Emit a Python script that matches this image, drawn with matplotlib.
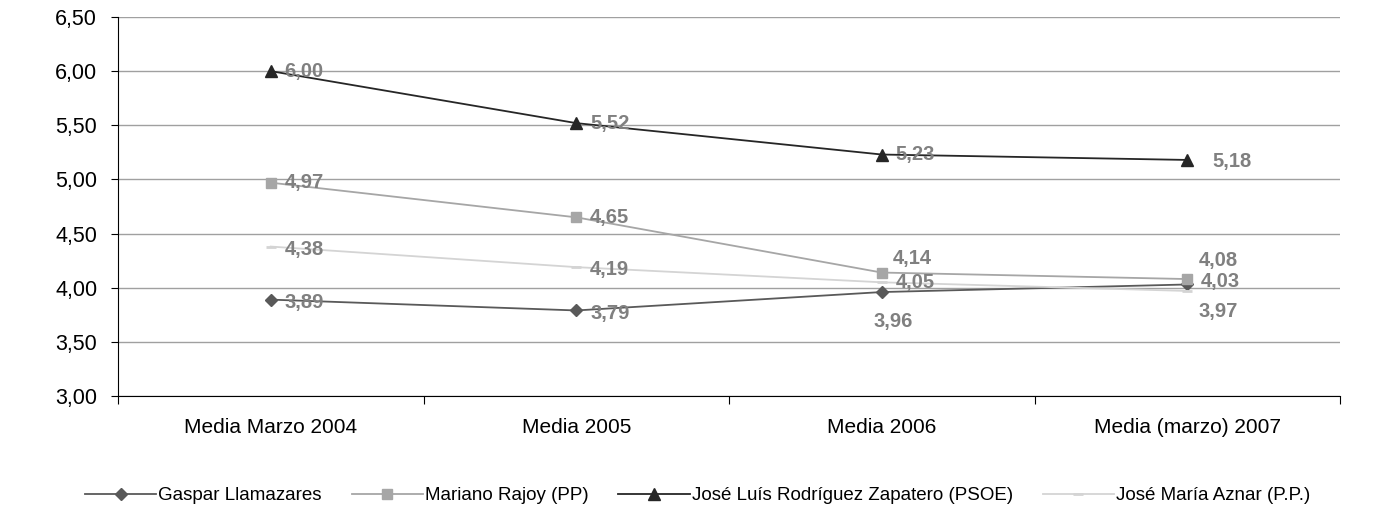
import matplotlib.pyplot as plt

plt.rcParams['font.family'] = ['Liberation Sans', 'DejaVu Sans']

categories = ["Media Marzo 2004", "Media 2005", "Media 2006", "Media (marzo) 2007"]
gaspar = [3.89, 3.79, 3.96, 4.03]
rajoy = [4.97, 4.65, 4.14, 4.08]
zapatero = [6.00, 5.52, 5.23, 5.18]
aznar = [4.38, 4.19, 4.05, 3.97]

series = [
    ("Gaspar Llamazares", gaspar, "#595959", "D", 6),
    ("Mariano Rajoy (PP)", rajoy, "#a6a6a6", "s", 7),
    ("José Luís Rodríguez Zapatero (PSOE)", zapatero, "#262626", "^", 8),
    ("José María Aznar (P.P.)", aznar, "#d4d4d4", "_", 7),
]
# label offsets in points per series / point
offsets = {
    "Gaspar Llamazares": [(10, -2), (10, -2), (-6, -21), (10, 2)],
    "Mariano Rajoy (PP)": [(10, 0), (10, 0), (8, 10), (8, 13)],
    "José Luís Rodríguez Zapatero (PSOE)": [(10, 0), (10, 0), (10, 0), (18, -1)],
    "José María Aznar (P.P.)": [(10, -2), (10, -2), (10, 0), (8, -15)],
}

fig = plt.figure(figsize=(13.95, 5.16), dpi=100)
ax = fig.add_axes([118 / 1395, 1 - 396 / 516, 1222 / 1395, 379 / 516])
x = [i + 0.5 for i in range(len(categories))]
for name, vals, col, mk, ms in series:
    ax.plot(x, vals, color=col, marker=mk, markersize=ms, lw=1.3, label=name,
            markeredgewidth=2 if mk == "_" else 1)
    for i, v in enumerate(vals):
        dx, dy = offsets[name][i]
        ax.annotate(f"{v:.2f}".replace(".", ","), (x[i], v), xytext=(dx, dy),
                    textcoords="offset points", va="center", ha="left",
                    fontsize=14.5, fontweight="bold", color="#808080")

ax.set_xlim(0, 4)
ax.set_ylim(3, 6.5)
ax.set_yticks([3 + 0.5 * i for i in range(8)])
ax.set_yticklabels([f"{3 + 0.5 * i:.2f}".replace(".", ",") for i in range(8)], fontsize=15.5)
ax.set_xticks([0, 1, 2, 3, 4])
ax.set_xticklabels([])
ax.set_xticks(x, minor=True)
ax.set_xticklabels(categories, minor=True, fontsize=15)
ax.tick_params(axis="x", which="minor", length=0, pad=16)
ax.tick_params(axis="x", which="major", length=6, direction="out")
ax.tick_params(axis="y", length=5, direction="out", pad=10)
ax.grid(axis="y", color="#a0a0a0", lw=1)
ax.set_axisbelow(True)
for s in ["top", "right"]:
    ax.spines[s].set_visible(False)
fig.legend(loc="lower center", bbox_to_anchor=(0.5, -0.01), ncol=4, frameon=False,
           fontsize=13.5, handlelength=3.8, columnspacing=1.6, handletextpad=0.1)
fig.savefig("out.png", dpi=100)
